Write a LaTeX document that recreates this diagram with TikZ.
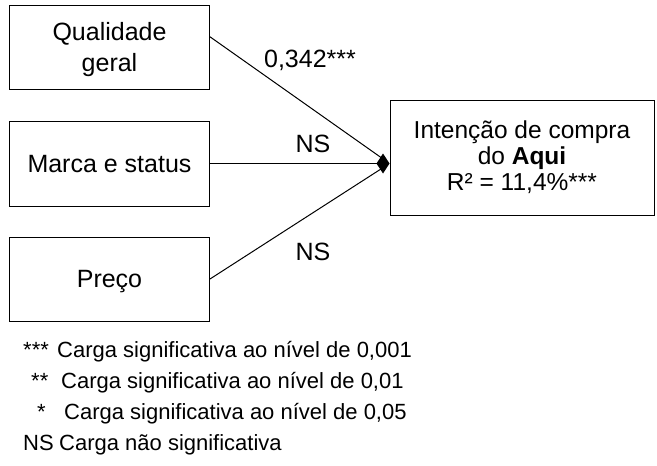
\documentclass[tikz,border=0pt]{standalone}
\usepackage{fontspec}
\setmainfont{Liberation Sans}
\usepackage{tikz}
\usetikzlibrary{calc,arrows.meta}
\tikzset{
	bloco/.style={draw, line width=1pt, inner sep=0pt, align=center, font=\fontsize{25}{31}\selectfont},
	entrada/.style={bloco, text depth=0pt, minimum width=200pt, minimum height=84pt},
	rotulo/.style={inner sep=0pt, anchor=base, font=\fontsize{25}{30}\selectfont},
	nota/.style={inner sep=0pt, anchor=base west, font=\fontsize{22}{26}\selectfont},
	seta/.style={line width=1pt}
}

\begin{document}
\begin{tikzpicture}[x=1pt, y=-1pt]
		%%%%% START %%%%%
		\useasboundingbox (0, 0) rectangle (657, 466);
		
		\node[entrada] (qual) at (109.5, 47) {Qualidade\\geral};
		\node[entrada, minimum height=85pt] (marca) at (109.5, 163.5) {Marca e status};
		\node[entrada] (preco) at (109.5, 279) {Preço};
		
		\node[bloco, minimum width=264pt, minimum height=115pt, font=\fontsize{24.5}{26}\selectfont] (intencao) at (522, 157.5) {Intenção de compra\\do \textbf{Aqui}\\R² = 11,4\%***};
		
		\coordinate (hub) at (intencao.west |- marca.east);
		
		\draw[seta, shorten >=6pt] ($(qual.north east)!0.38!(qual.south east)$) -- (hub);
		\draw[seta, -{Diamond[length=13pt, width=20pt]}] (marca.east) -- (hub);
		\draw[seta, shorten >=6pt] (preco.east) -- (hub);
		
		\node[rotulo] (c1) at (310, 67) {0,342***};
		\node[rotulo] (c2) at (313, 152) {NS};
		\node[rotulo] (c3) at (313, 260) {NS};
		
		\node[nota] (m1) at (23, 357) {***};
		\node[nota] (n1) at (57, 357) {Carga significativa ao nível de 0,001};
		\node[nota] (m2) at (31, 388) {**};
		\node[nota] (n2) at (61, 388) {Carga significativa ao nível de 0,01};
		\node[nota] (m3) at (37, 419) {*};
		\node[nota] (n3) at (64, 419) {Carga significativa ao nível de 0,05};
		\node[nota] (m4) at (23, 450) {NS};
		\node[nota] (n4) at (59, 450) {Carga não significativa};
		
		%%%%% END %%%%%
	\end{tikzpicture}
\end{document}
